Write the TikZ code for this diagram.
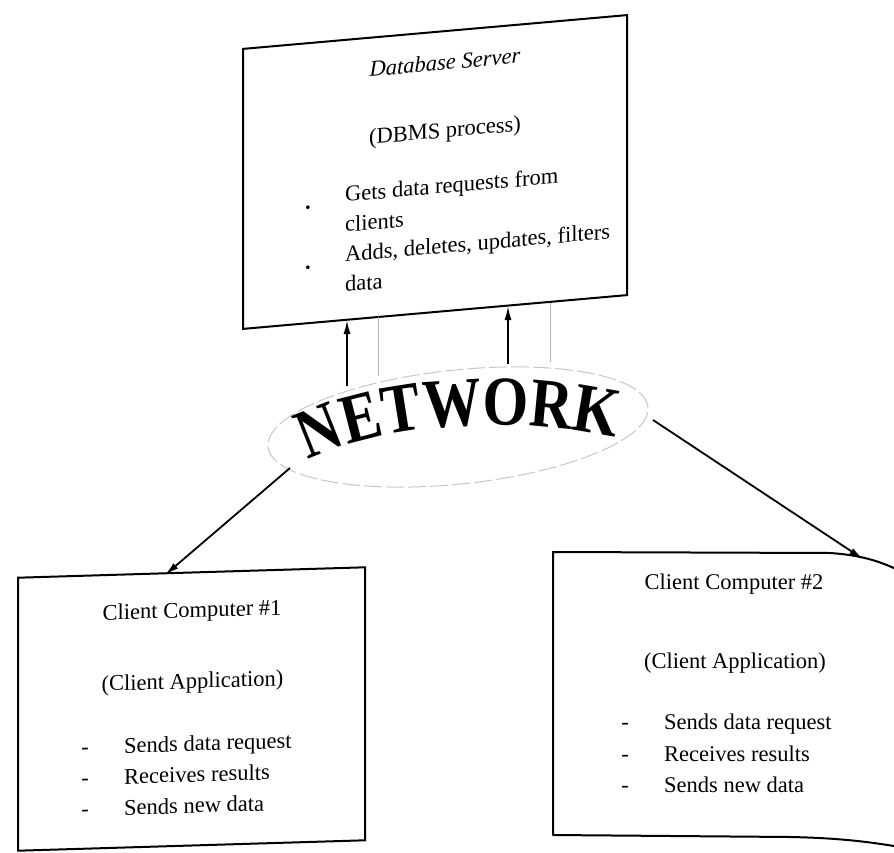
\documentclass[tikz,border=0pt]{standalone}
\usepackage{fontspec}
\setmainfont{Liberation Serif}
\newfontfamily\netfont[FakeStretch=0.84, BoldFeatures={FakeStretch=0.84}]{Liberation Serif}
\usetikzlibrary{arrows.meta,shapes.geometric,decorations.text}
\begin{document}
\begin{tikzpicture}[x=1pt,y=-1pt,
  box/.style={draw, line width=2pt, inner sep=0pt},
  txt/.style={font=\fontsize{22.5}{27}\selectfont, inner sep=0pt},
  itxt/.style={font=\fontsize{22.5}{27}\selectfont\itshape, inner sep=0pt},
  arr/.style={line width=1.8pt, -{Latex[length=14pt,width=7pt]}},
  ghost/.style={draw=black!30, line width=0.9pt}]
\useasboundingbox (0,0) rectangle (894,853);
\clip (0,0) rectangle (894,853);

% ---------------- Database server ----------------
\begin{scope}[shift={(435,172)}, yslant=0.088, transform shape]
  \node[box, minimum width=384pt, minimum height=280pt] (srv) at (0,0) {};
  \node[itxt] (srvtitle) at (10,-109) {Database Server};
  \node[txt] (srvproc) at (10,-39) {(DBMS process)};
  \node[font=\fontsize{22.5}{30}\selectfont, inner sep=0pt, align=left,
        anchor=base west] (srvlist) at (-90,112)
        {Gets data requests from\\clients\\Adds, deletes, updates, filters\\data};
  \node[txt, anchor=base] (srvb1) at (-127,26) {\textbf{.}};
  \node[txt, anchor=base] (srvb2) at (-127,86) {\textbf{.}};
\end{scope}

% ---------------- Network ----------------
\node[ellipse, draw=black!22, line width=1pt, dash pattern=on 18pt off 4pt,
      minimum width=382pt, minimum height=114pt, rotate=6] (net) at (458,427) {};
\path[decorate, decoration={text along path, text align=center,
      text={|\netfont\bfseries\fontsize{70}{70}\selectfont|NETWORK}}]
  (300,465) .. controls (380,420) and (520,415) .. (625,440);

% arrows network -> server
\coordinate (n1) at (347,386);
\coordinate (s1) at (347,320);
\coordinate (n2) at (508,364);
\coordinate (s2) at (508,306);
\draw[arr] (n1) -- (s1);
\draw[arr] (n2) -- (s2);
% faint lines
\coordinate (g1a) at (378,317);
\coordinate (g1b) at (378,376);
\coordinate (g2a) at (550,303);
\coordinate (g2b) at (550,362);
\draw[ghost] (g1a) -- (g1b);
\draw[ghost] (g2a) -- (g2b);

% ---------------- Client 1 ----------------
\begin{scope}[shift={(191.5,709)}, yslant=0.03, transform shape]
  \node[box, minimum width=347pt, minimum height=273pt] (c1) at (0,0) {};
  \node[txt] (c1title) at (0.5,-97) {Client Computer \#1};
  \node[txt] (c1app) at (1,-26) {(Client Application)};
  \node[txt, anchor=base west] (c1l1) at (-67.5,42) {Sends data request};
  \node[txt, anchor=base west] (c1l2) at (-67.5,73) {Receives results};
  \node[txt, anchor=base west] (c1l3) at (-67.5,104) {Sends new data};
  \node[txt, anchor=base] (c1d1) at (-106.5,42) {-};
  \node[txt, anchor=base] (c1d2) at (-106.5,73) {-};
  \node[txt, anchor=base] (c1d3) at (-106.5,104) {-};
\end{scope}

% ---------------- Client 2 ----------------
\node[minimum width=350pt, minimum height=283pt, inner sep=0pt] (c2) at (728,694) {};
\draw[line width=2pt, line join=round]
  (900,571) .. controls (880,561) and (860,555) .. (830,553)
  -- (553,552) -- (553,835) -- (790,837)
  .. controls (840,838) and (870,842) .. (900,847);
\node[txt] (c2title) at (734,584) {Client Computer \#2};
\node[txt] (c2app) at (735,663) {(Client Application)};
\node[txt, anchor=base west] (c2l1) at (664,729) {Sends data request};
\node[txt, anchor=base west] (c2l2) at (664,761) {Receives results};
\node[txt, anchor=base west] (c2l3) at (664,792) {Sends new data};
\node[txt, anchor=base] (c2d1) at (625,729) {-};
\node[txt, anchor=base] (c2d2) at (625,761) {-};
\node[txt, anchor=base] (c2d3) at (625,792) {-};

% arrows network -> clients
\coordinate (n3) at (290,468);
\coordinate (c1t) at (165,575);
\coordinate (n4) at (653,420);
\coordinate (c2t) at (863,559);
\draw[arr] (n3) -- (c1t);
\draw[arr] (n4) -- (c2t);
\end{tikzpicture}
\end{document}
